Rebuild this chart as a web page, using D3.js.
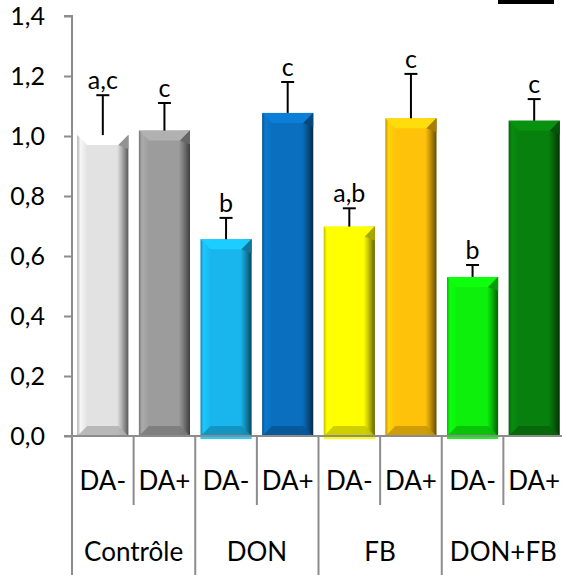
<!DOCTYPE html>
<html>
<head>
<meta charset="utf-8">
<script src="https://cdn.jsdelivr.net/npm/d3@7"></script>
<style>
  html, body { margin: 0; padding: 0; background: #fff; }
  svg { display: block; }
  text { font-family: Lato, "Open Sans", sans-serif; fill: #000; }
</style>
</head>
<body>
<script>
// ---- data ----
const groups = ["Contrôle", "DON", "FB", "DON+FB"];
const subLabels = ["DA-", "DA+", "DA-", "DA+", "DA-", "DA+", "DA-", "DA+"];
const values = [1.003, 1.018, 0.656, 1.077, 0.698, 1.059, 0.530, 1.051];
const errors = [0.133, 0.092, 0.071, 0.103, 0.061, 0.148, 0.040, 0.072];
const letters = ["a,c", "c", "b", "c", "a,b", "c", "b", "c"];
const colors = ["#e2e2e2", "#9c9c9c", "#19b6ee", "#0a6fbe", "#ffff00", "#ffc20a", "#0cf00c", "#08800e"];
const yTicks = [0, 0.2, 0.4, 0.6, 0.8, 1.0, 1.2, 1.4];

const W = 562, H = 575;
const svg = d3.select("body").append("svg").attr("width", W).attr("height", H);
const defs = svg.append("defs");

const x0 = 72, x1 = 565, yBase = 436, yTop = 16;
const y = d3.scaleLinear().domain([0, 1.4]).range([yBase, yTop]);
const x = d3.scaleBand().domain(d3.range(values.length)).range([x0, x1]).padding(0);
const xg = d3.scaleBand().domain(groups).range([x0, x1]).padding(0);
const bw = x.bandwidth() * 0.83;
const axisColor = "#8c8c8c";
const fmt = v => d3.format(".1f")(v).replace(".", ",");

// y axis
const yAxis = d3.axisLeft(y).tickValues(yTicks).tickSize(8).tickFormat(fmt);
const gy = svg.append("g").attr("transform", `translate(${x0},0)`).call(yAxis);
gy.select(".domain").attr("stroke", axisColor).attr("stroke-width", 2).attr("d", `M-8,${yTop}H0V${yBase}`);
gy.selectAll(".tick line").attr("stroke", axisColor).attr("stroke-width", 2);
gy.selectAll(".tick text").attr("x", -27).style("font-size", "25px").style("font-family", "Lato, sans-serif").attr("fill", "#000");

// bars
const bev = 10;
values.forEach((v, i) => {
  const c = d3.color(colors[i]);
  const gid = "g" + i;
  const lg = defs.append("linearGradient").attr("id", gid).attr("x1", 0).attr("x2", 1).attr("y1", 0).attr("y2", 0);
  [[0, c.darker(0.8)], [0.06, c.brighter(0.25)], [0.2, c], [0.78, c], [0.86, c.darker(0.6)], [1, c.darker(2.6)]]
    .forEach(([o, col]) => lg.append("stop").attr("offset", o).attr("stop-color", col));
  const bx = x(i) + (x.bandwidth() - bw) / 2;
  const top = y(v), bot = y(0);
  const g = svg.append("g");
  if (subLabels[i] === "DA-") {
    g.append("rect").attr("x", bx).attr("y", bot).attr("width", bw).attr("height", 3).attr("fill", c.brighter(0.4));
  }
  g.append("rect").attr("x", bx).attr("y", top).attr("width", bw).attr("height", bot - top).attr("fill", `url(#${gid})`);
  // top bevel
  g.append("path").attr("d", `M${bx},${top}L${bx + bw},${top}L${bx + bw - bev},${top + bev}L${bx + bev},${top + bev}Z`)
    .attr("fill", c.brighter(0.35));
  g.append("path").attr("d", `M${bx + bw},${top}L${bx + bw - bev},${top + bev}L${bx + bw},${top + bev + 4}Z`)
    .attr("fill", c.darker(1.2));
  // bottom bevel
  g.append("path").attr("d", `M${bx},${bot}L${bx + bw},${bot}L${bx + bw - bev},${bot - bev}L${bx + bev},${bot - bev}Z`)
    .attr("fill", c.darker(0.7)).attr("opacity", 0.85);
  // error bar
  const et = y(v + errors[i]);
  const cx = bx + bw / 2;
  g.append("line").attr("x1", cx).attr("x2", cx).attr("y1", top).attr("y2", et).attr("stroke", "#000").attr("stroke-width", 2);
  g.append("line").attr("x1", cx - 6.5).attr("x2", cx + 6.5).attr("y1", et).attr("y2", et).attr("stroke", "#000").attr("stroke-width", 2);
  g.append("text").attr("x", cx).attr("y", et - 6).attr("text-anchor", "middle").style("font-size", "25px").text(letters[i]);
});

// x axis line
svg.append("line").attr("x1", x0 - 8).attr("x2", W).attr("y1", yBase).attr("y2", yBase).attr("stroke", axisColor).attr("stroke-width", 2);

// inner separators and sub labels
subLabels.forEach((s, i) => {
  if (i % 2 === 1) {
    svg.append("line").attr("x1", x(i)).attr("x2", x(i)).attr("y1", yBase).attr("y2", 505).attr("stroke", axisColor).attr("stroke-width", 2);
  }
  svg.append("text").attr("x", x(i) + x.bandwidth() / 2).attr("y", 481).attr("dy", "0.35em")
    .attr("text-anchor", "middle").style("font-size", "26px").text(s);
});
// group separators and labels
groups.forEach((gname, j) => {
  svg.append("line").attr("x1", xg(gname)).attr("x2", xg(gname)).attr("y1", yBase).attr("y2", H).attr("stroke", axisColor).attr("stroke-width", 2);
  svg.append("text").attr("x", xg(gname) + xg.bandwidth() / 2).attr("y", 552).attr("dy", "0.35em")
    .attr("text-anchor", "middle").style("font-size", "26px").text(gname);
});

// black mark at top right
svg.append("rect").attr("x", 498).attr("y", 0).attr("width", 56).attr("height", 4).attr("fill", "#000");
</script>
</body>
</html>
